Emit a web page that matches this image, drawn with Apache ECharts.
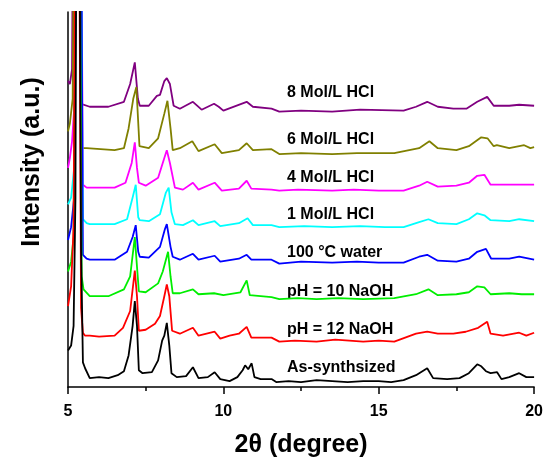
<!DOCTYPE html>
<html>
<head>
<meta charset="utf-8">
<script src="https://cdn.jsdelivr.net/npm/echarts@6/dist/echarts.min.js"></script>
<style>
  html, body { margin: 0; padding: 0; background: #fff; }
  #main { width: 546px; height: 463px; }
</style>
</head>
<body>
<div id="main"></div>
<script>
// 2theta (degree), intensity (a.u., stacked offsets included)
var asSynth = [[5.00,37],[5.10,42],[5.18,62],[5.24,192],[5.31,900],[5.42,142],[5.48,25],[5.55,19],[5.70,9],[6.00,10],[6.30,9],[6.60,12],[6.80,16],[6.95,32],[7.08,62],[7.15,87],[7.22,62],[7.28,17],[7.40,14],[7.70,15],[7.90,27],[8.03,47],[8.10,52],[8.18,65],[8.26,42],[8.33,14],[8.50,10],[8.80,11],[9.02,20],[9.20,9],[9.50,10],[9.72,15],[9.90,8],[10.20,6],[10.45,10],[10.62,17],[10.70,22],[10.80,18],[10.91,24],[11.00,10],[11.20,8],[11.55,8],[11.70,5],[12.10,6],[12.50,5],[13.00,7],[13.50,6],[14.00,5],[14.50,6],[15.00,6],[15.40,5],[15.80,7],[16.20,12],[16.56,19],[16.75,9],[17.20,8],[17.60,9],[17.90,14],[18.17,23],[18.30,21],[18.45,16],[18.60,14],[18.81,15],[18.95,8],[19.20,10],[19.52,14],[19.75,10],[20.00,10]];
var ph12 = [[5.00,82],[5.10,102],[5.18,162],[5.30,900],[5.42,80],[5.48,55],[5.55,52],[5.70,52],[6.00,51],[6.50,52],[6.77,60],[7.00,77],[7.15,118],[7.22,92],[7.28,57],[7.50,58],[7.80,64],[7.96,72],[8.10,92],[8.18,104],[8.26,92],[8.35,57],[8.60,54],[9.02,60],[9.20,52],[9.72,56],[9.90,49],[10.20,52],[10.50,54],[10.75,61],[10.90,50],[11.55,50],[11.80,46],[12.30,47],[13.00,46],[13.60,48],[14.50,46],[15.00,47],[15.50,46],[16.20,54],[16.56,56],[16.90,54],[17.40,54],[17.80,56],[18.20,60],[18.49,66],[18.60,54],[19.00,52],[19.52,55],[19.75,52],[20.00,55]];
var ph10 = [[5.00,117],[5.10,127],[5.18,152],[5.31,900],[5.44,112],[5.50,99],[5.70,92],[6.30,92],[6.80,99],[7.00,112],[7.15,152],[7.22,122],[7.28,97],[7.50,96],[7.90,105],[8.05,117],[8.22,137],[8.30,112],[8.37,95],[8.60,95],[9.02,99],[9.20,94],[9.70,95],[10.00,93],[10.55,96],[10.75,108],[10.85,93],[11.55,91],[11.80,89],[12.40,90],[13.00,89],[13.70,90],[14.50,89],[15.50,90],[16.20,94],[16.60,99],[16.90,93],[17.50,94],[17.90,96],[18.17,102],[18.40,101],[18.60,94],[19.20,95],[19.60,94],[20.00,94]];
var water100 = [[5.00,149],[5.10,162],[5.20,192],[5.35,900],[5.48,134],[5.60,130],[5.70,129],[6.50,129],[6.90,137],[7.08,152],[7.18,164],[7.26,137],[7.31,132],[7.60,131],[7.96,142],[8.12,160],[8.18,165],[8.30,142],[8.37,132],[8.60,129],[9.02,135],[9.20,129],[9.72,133],[9.90,127],[10.50,130],[10.75,134],[10.90,129],[11.55,129],[11.80,125],[12.50,127],[13.50,126],[14.30,127],[15.00,126],[15.80,126],[16.30,132],[16.56,134],[16.90,128],[17.50,127],[17.90,130],[18.17,137],[18.45,140],[18.62,130],[19.20,130],[19.52,132],[20.00,129]];
var hcl1 = [[5.00,185],[5.10,192],[5.20,222],[5.34,900],[5.48,170],[5.60,166],[5.70,165],[6.50,165],[6.90,170],[7.08,192],[7.18,205],[7.26,172],[7.31,169],[7.60,168],[7.96,175],[8.15,197],[8.24,202],[8.33,177],[8.44,165],[8.70,164],[9.02,169],[9.20,164],[9.72,168],[9.90,163],[10.50,166],[10.78,171],[10.95,164],[11.55,164],[11.80,162],[12.60,163],[13.50,162],[14.40,163],[15.20,162],[15.80,162],[16.30,167],[16.60,170],[16.90,166],[17.50,165],[17.90,170],[18.17,176],[18.40,174],[18.60,169],[19.20,168],[19.52,170],[20.00,168]];
var hcl4 = [[5.00,222],[5.06,232],[5.13,249],[5.22,292],[5.34,900],[5.48,205],[5.60,202],[5.70,202],[6.50,202],[6.85,207],[7.05,227],[7.15,248],[7.22,222],[7.28,207],[7.50,204],[7.90,212],[8.10,232],[8.18,240],[8.28,227],[8.44,202],[8.70,200],[9.02,207],[9.20,200],[9.72,207],[9.95,199],[10.50,201],[10.75,209],[10.90,201],[11.55,200],[11.80,199],[12.40,200],[13.50,199],[14.20,200],[15.00,199],[15.80,199],[16.30,204],[16.56,208],[16.90,203],[17.50,204],[17.90,207],[18.17,214],[18.40,215],[18.60,205],[19.20,205],[19.52,205],[20.00,205]];
var hcl6 = [[5.00,259],[5.06,267],[5.15,292],[5.29,900],[5.45,242],[5.60,242],[6.50,240],[6.80,242],[6.95,262],[7.10,292],[7.20,304],[7.27,262],[7.30,244],[7.60,242],[7.90,252],[8.10,277],[8.20,290],[8.30,262],[8.37,240],[8.60,242],[9.00,249],[9.20,239],[9.72,246],[9.95,237],[10.50,240],[10.75,247],[10.95,240],[11.55,241],[11.80,236],[12.50,237],[13.50,236],[14.30,237],[15.50,237],[16.30,242],[16.63,249],[16.90,242],[17.50,240],[17.90,244],[18.30,253],[18.50,252],[18.70,244],[18.80,245],[19.20,242],[19.68,245],[19.88,242],[20.00,243]];
var hcl8 = [[5.00,310],[5.06,307],[5.13,322],[5.25,900],[5.42,287],[5.48,285],[5.70,284],[6.30,284],[6.80,289],[7.00,307],[7.15,329],[7.25,292],[7.31,285],[7.60,285],[7.86,295],[7.96,296],[8.10,310],[8.18,313],[8.28,307],[8.40,285],[8.60,282],[9.02,289],[9.30,281],[9.70,287],[9.85,284],[10.00,280],[10.75,289],[10.95,284],[11.55,282],[11.80,279],[12.50,280],[13.50,279],[14.40,281],[15.80,280],[16.20,284],[16.56,289],[16.90,284],[17.40,282],[17.82,282],[18.17,289],[18.49,294],[18.70,285],[19.20,285],[19.52,286],[20.00,285]];

var seriesList = [
  { name: 'As-synthsized', data: asSynth, color: '#000000' },
  { name: 'pH = 12 NaOH', data: ph12, color: '#ff0000' },
  { name: 'pH = 10 NaOH', data: ph10, color: '#00ee00' },
  { name: '100 °C water', data: water100, color: '#0000ff' },
  { name: '1 Mol/L HCl', data: hcl1, color: '#00ffff' },
  { name: '4 Mol/L HCl', data: hcl4, color: '#ff00ff' },
  { name: '6 Mol/L HCl', data: hcl6, color: '#808000' },
  { name: '8 Mol/L HCl', data: hcl8, color: '#800080' }
];
var labelY = [368, 330, 292, 253, 215, 178, 140, 93];

var font = '"Liberation Sans", Arial, sans-serif';
var chart = echarts.init(document.getElementById('main'));

var series = [];
var graphics = [];
for (var i = 0; i < seriesList.length; i++) {
  series.push({
    name: seriesList[i].name,
    type: 'line',
    data: seriesList[i].data,
    showSymbol: false,
    clip: true,
    lineStyle: { color: seriesList[i].color, width: 1.8 },
    itemStyle: { color: seriesList[i].color },
    z: 10 - i
  });
  graphics.push({
    type: 'text',
    x: 287,
    y: labelY[i],
    style: {
      text: seriesList[i].name,
      font: 'bold 16px ' + font,
      fill: '#000',
      textVerticalAlign: 'middle'
    }
  });
}
// y axis title
graphics.push({
  type: 'text',
  x: 32,
  y: 162,
  rotation: Math.PI / 2,
  style: {
    text: 'Intensity (a.u.)',
    font: 'bold 25px ' + font,
    fill: '#000',
    textAlign: 'center',
    textVerticalAlign: 'middle'
  }
});

chart.setOption({
  animation: false,
  backgroundColor: '#fff',
  grid: { left: 68, right: 11, top: 12, bottom: 71 },
  xAxis: {
    type: 'value',
    min: 5,
    max: 20,
    interval: 5,
    name: '2θ (degree)',
    nameLocation: 'middle',
    nameGap: 46,
    nameTextStyle: { fontFamily: font, fontWeight: 'bold', fontSize: 25, color: '#000' },
    axisLine: { lineStyle: { color: '#000', width: 1.5 } },
    axisTick: { length: 7, lineStyle: { color: '#000', width: 1.5 } },
    minorTick: { show: true, splitNumber: 2, length: 4, lineStyle: { color: '#000', width: 1.5 } },
    axisLabel: { fontFamily: font, fontWeight: 'bold', fontSize: 16, color: '#000', margin: 17 },
    splitLine: { show: false }
  },
  yAxis: {
    type: 'value',
    min: 0,
    max: 380,
    axisLine: { show: true, lineStyle: { color: '#000', width: 1.5 } },
    axisTick: { show: false },
    axisLabel: { show: false },
    splitLine: { show: false }
  },
  graphic: graphics,
  series: series
});
</script>
</body>
</html>
